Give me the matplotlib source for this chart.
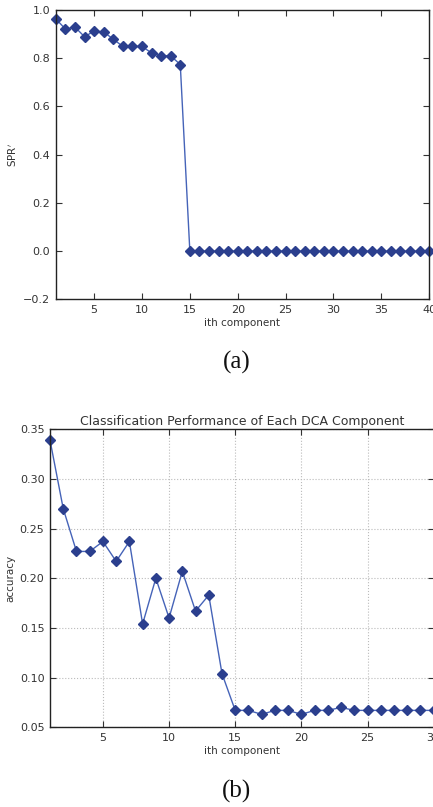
import matplotlib
matplotlib.use('Agg')
import matplotlib.pyplot as plt

# (a) SPR' per component
spr_x = list(range(1, 41))
spr_y = [0.963, 0.921, 0.929, 0.889, 0.913, 0.909, 0.879, 0.849, 0.849, 0.849,
         0.822, 0.810, 0.810, 0.774] + [0.0] * 26

# (b) classification accuracy per component
acc_x = list(range(1, 31))
acc_y = [0.339, 0.270, 0.227, 0.227, 0.237, 0.217, 0.237, 0.154, 0.200, 0.160,
         0.207, 0.167, 0.183, 0.104, 0.067, 0.067, 0.063, 0.067, 0.067, 0.063,
         0.067, 0.067, 0.070, 0.067, 0.067, 0.067, 0.067, 0.067, 0.067, 0.067]

line_c = '#4563b8'
mark_c = '#2b3f8e'
text_c = '#333333'

plt.rcParams['font.family'] = ['DejaVu Sans']
plt.rcParams['font.size'] = 8

fig = plt.figure(figsize=(4.33, 8.07), dpi=100)

def style(ax):
    ax.tick_params(direction='in', top=True, right=True, length=4, width=0.8,
                   colors=text_c, labelsize=8, pad=4)
    for s in ax.spines.values():
        s.set_linewidth(1.0)
        s.set_color('#222222')

# Panel (a)
ax1 = fig.add_axes([0.129, 0.629, 0.862, 0.3586])
ax1.plot(spr_x, spr_y, color=line_c, lw=1.0, marker='D', ms=5.5,
         mfc=mark_c, mec=mark_c, clip_on=False)
ax1.set_xlim(1, 40)
ax1.set_ylim(-0.2, 1.0)
ax1.set_xticks([5, 10, 15, 20, 25, 30, 35, 40])
ax1.set_yticks([-0.2, 0.0, 0.2, 0.4, 0.6, 0.8, 1.0])
ax1.set_xlabel('ith component', color=text_c, fontsize=7.5, labelpad=2)
ax1.set_ylabel(r"SPR$'$", color=text_c, fontsize=7.5, labelpad=3)
style(ax1)
fig.text(0.546, 0.551, '(a)', family='Liberation Serif', fontsize=18,
         ha='center', va='center', color='#111111')

# Panel (b)
ax2 = fig.add_axes([0.1155, 0.0988, 0.886, 0.3693])
ax2.plot(acc_x, acc_y, color=line_c, lw=1.0, marker='D', ms=5.5,
         mfc=mark_c, mec=mark_c, clip_on=False)
ax2.set_xlim(1, 30)
ax2.set_ylim(0.05, 0.35)
ax2.set_xticks([5, 10, 15, 20, 25, 30])
ax2.set_yticks([0.05, 0.10, 0.15, 0.20, 0.25, 0.30, 0.35])
ax2.grid(True, color='#bbbbbb', linestyle=':', linewidth=0.8)
ax2.set_xlabel('ith component', color=text_c, fontsize=7.5, labelpad=2)
ax2.set_ylabel('accuracy', color=text_c, fontsize=7.5, labelpad=3)
ax2.set_title('Classification Performance of Each DCA Component',
              color=text_c, fontsize=9, pad=3)
style(ax2)
fig.text(0.546, 0.019, '(b)', family='Liberation Serif', fontsize=18,
         ha='center', va='center', color='#111111')

fig.savefig('out.png', dpi=100, facecolor='white')
